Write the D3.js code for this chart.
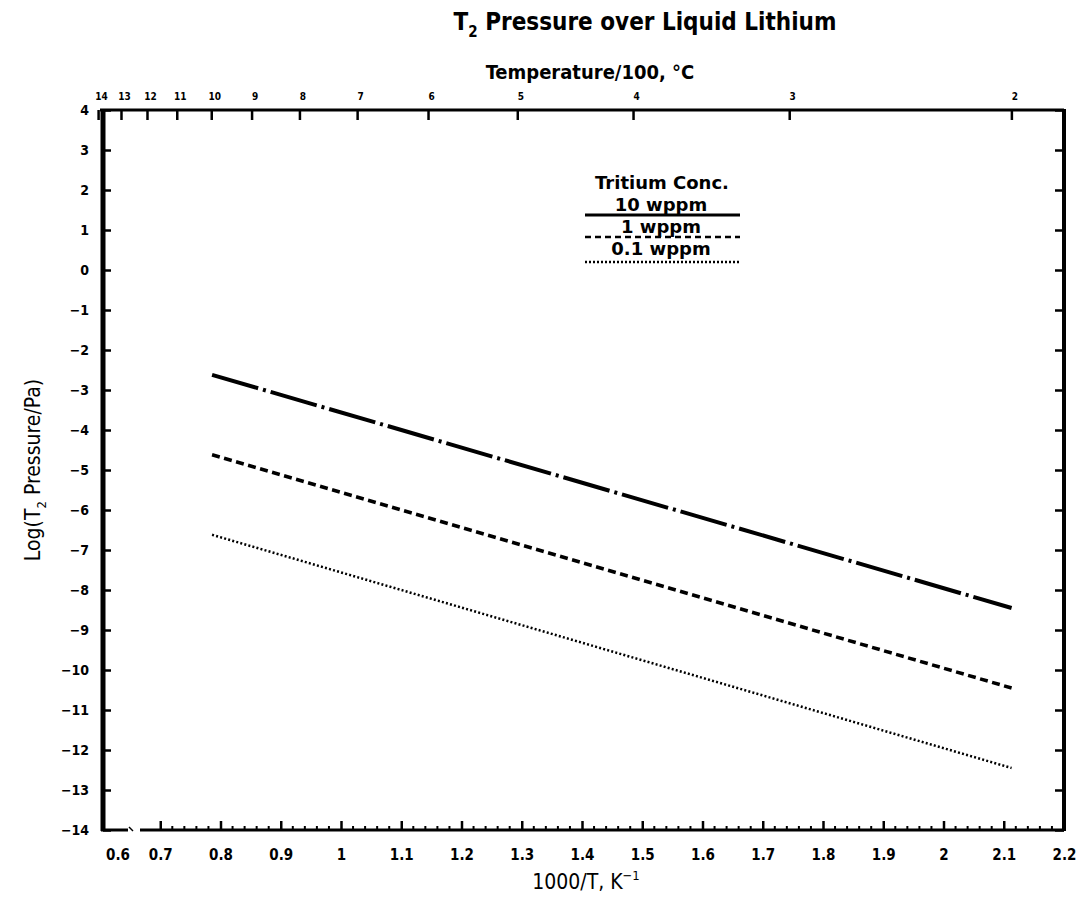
<!DOCTYPE html>
<html>
<head>
<meta charset="utf-8">
<script src="https://cdn.jsdelivr.net/npm/d3@7"></script>
<style>
  html, body { margin: 0; padding: 0; background: #fff; }
  svg { display: block; }
  text { font-family: "DejaVu Sans", "Liberation Sans", sans-serif; font-stretch: condensed; fill: #000; }
</style>
</head>
<body>
<script>
// ---- data ----
const xTickValues = [0.6, 0.7, 0.8, 0.9, 1, 1.1, 1.2, 1.3, 1.4, 1.5, 1.6, 1.7, 1.8, 1.9, 2, 2.1, 2.2];
const xTickLabels = ["0.6", "0.7", "0.8", "0.9", "1", "1.1", "1.2", "1.3", "1.4", "1.5", "1.6", "1.7", "1.8", "1.9", "2", "2.1", "2.2"];
const yTickValues = [4, 3, 2, 1, 0, -1, -2, -3, -4, -5, -6, -7, -8, -9, -10, -11, -12, -13, -14];
const tempTickValues = [14, 13, 12, 11, 10, 9, 8, 7, 6, 5, 4, 3, 2]; // temperature / 100, °C
const seriesNames = ["10 wppm", "1 wppm", "0.1 wppm"];
const invT = [0.786, 2.113];           // 1000/T at line ends (1000 °C to 200 °C)
const logP_10wppm = [-2.62, -8.45];
const logP_1wppm = [-4.62, -10.45];
const logP_01wppm = [-6.62, -12.45];

// ---- layout ----
const W = 1090, H = 899;
const L = 100, R = 1064, T = 110, B = 830;

const svg = d3.select("body").append("svg").attr("width", W).attr("height", H);

const x = d3.scaleLinear().domain([0.6, 2.2]).range([L, R]);
const y = d3.scaleLinear().domain([-14, 4]).range([B, T]);

// title
const title = svg.append("text").attr("x", 645).attr("y", 30).attr("text-anchor", "middle")
  .style("font-size", "24px").style("font-weight", "bold");
title.append("tspan").text("T");
title.append("tspan").attr("dy", 7).style("font-size", "15px").text("2");
title.append("tspan").attr("dy", -7).text(" Pressure over Liquid Lithium");

// top axis title
svg.append("text").attr("x", 590).attr("y", 79).attr("text-anchor", "middle")
  .style("font-size", "20px").style("font-weight", "bold").text("Temperature/100, °C");

// frame: top
svg.append("line").attr("x1", L).attr("x2", R).attr("y1", T).attr("y2", T)
  .attr("stroke", "#000").attr("stroke-width", 3);
// right
svg.append("line").attr("x1", R).attr("x2", R).attr("y1", T - 1).attr("y2", B + 1)
  .attr("stroke", "#000").attr("stroke-width", 4);
// left (thick)
svg.append("line").attr("x1", L + 3).attr("x2", L + 3).attr("y1", T - 1).attr("y2", B + 1)
  .attr("stroke", "#000").attr("stroke-width", 5);
// bottom with break
svg.append("line").attr("x1", L + 1).attr("x2", 128).attr("y1", B).attr("y2", B)
  .attr("stroke", "#000").attr("stroke-width", 3);
svg.append("line").attr("x1", 140).attr("x2", R).attr("y1", B).attr("y2", B)
  .attr("stroke", "#000").attr("stroke-width", 3);
svg.append("line").attr("x1", 129).attr("x2", 133).attr("y1", B - 3).attr("y2", B + 1)
  .attr("stroke", "#000").attr("stroke-width", 1.5);

// bottom axis (ticks inward)
const xAxis = d3.axisBottom(x).tickValues(xTickValues.slice(1))
  .tickFormat((d) => xTickLabels[xTickValues.indexOf(d)])
  .tickSize(-9).tickPadding(19);
const gx = svg.append("g").attr("transform", `translate(0,${B})`).call(xAxis);
gx.select(".domain").remove();
gx.selectAll(".tick line").attr("stroke", "#000").attr("stroke-width", 2.5);
gx.selectAll(".tick text").style("font-size", "15px").style("font-weight", "bold")
  .style("font-family", '"DejaVu Sans", sans-serif');
// minor ticks
const minorX = d3.range(0.72, 2.2, 0.02).filter((v) => Math.abs(v * 10 - Math.round(v * 10)) > 0.01);
svg.append("g").selectAll("line").data(minorX).join("line")
  .attr("x1", (d) => x(d)).attr("x2", (d) => x(d)).attr("y1", B).attr("y2", B - 4)
  .attr("stroke", "#000").attr("stroke-width", 2);
// 0.6 label sits right of the frame, before the break
svg.append("text").attr("x", 118).attr("y", B + 30).attr("text-anchor", "middle")
  .style("font-size", "15px").style("font-weight", "bold").style("font-family", '"DejaVu Sans", sans-serif')
  .text(xTickLabels[0]);

// bottom axis title
const xt = svg.append("text").attr("x", 586).attr("y", 889).attr("text-anchor", "middle")
  .style("font-size", "21px");
xt.append("tspan").text("1000/T, K");
xt.append("tspan").attr("dy", -9).style("font-size", "13px").text("−1");

// left axis
const yAxis = d3.axisLeft(y).tickValues(yTickValues).tickFormat((d) => d < 0 ? "−" + Math.abs(d) : d)
  .tickSize(-8).tickPadding(14);
const gy = svg.append("g").attr("transform", `translate(${L + 3},0)`).call(yAxis);
gy.select(".domain").remove();
gy.selectAll(".tick line").attr("stroke", "#000").attr("stroke-width", 2.5);
gy.selectAll(".tick text").style("font-size", "14px").style("font-weight", "bold")
  .style("font-family", '"DejaVu Sans", sans-serif');

// right axis ticks (inward)
const yAxisR = d3.axisRight(y).tickValues(yTickValues).tickSize(-9).tickFormat("");
const gyr = svg.append("g").attr("transform", `translate(${R},0)`).call(yAxisR);
gyr.select(".domain").remove();
gyr.selectAll(".tick line").attr("stroke", "#000").attr("stroke-width", 2.5);

// top axis: temperature in °C/100 placed at 1000/T(K)
const tempPos = (t) => x(1000 / (t * 100 + 273.15));
const gt = svg.append("g");
gt.selectAll("line").data(tempTickValues).join("line")
  .attr("x1", (d) => tempPos(d)).attr("x2", (d) => tempPos(d))
  .attr("y1", T).attr("y2", T + 10).attr("stroke", "#000").attr("stroke-width", 2.5);
gt.selectAll("text").data(tempTickValues).join("text")
  .attr("x", (d) => tempPos(d) + 3).attr("y", T - 10).attr("text-anchor", "middle")
  .style("font-size", "10px").style("font-weight", "bold").text((d) => d);

// y axis title
const yt = svg.append("text").attr("transform", `translate(40,${(T + B) / 2}) rotate(-90)`)
  .attr("text-anchor", "middle").style("font-size", "21px");
yt.append("tspan").text("Log(T");
yt.append("tspan").attr("dy", 6).style("font-size", "13px").text("2");
yt.append("tspan").attr("dy", -6).text(" Pressure/Pa)");

// data lines
const line = d3.line().x((d) => x(d[0])).y((d) => y(d[1]));
const series = [
  { name: seriesNames[0], vals: logP_10wppm, dash: "48,5,3,5", w: 4 },
  { name: seriesNames[1], vals: logP_1wppm, dash: "8,4.5", w: 3.5 },
  { name: seriesNames[2], vals: logP_01wppm, dash: "2,2.2", w: 2.5 },
];
svg.append("g").selectAll("path").data(series).join("path")
  .attr("d", (s) => line(invT.map((v, i) => [v, s.vals[i]])))
  .attr("fill", "none").attr("stroke", "#000")
  .attr("stroke-width", (s) => s.w).attr("stroke-dasharray", (s) => s.dash);

// legend
const lg = svg.append("g");
lg.append("text").attr("x", 662).attr("y", 189).attr("text-anchor", "middle")
  .style("font-size", "18px").style("font-weight", "bold").style("font-stretch", "normal").text("Tritium Conc.");
const legY = [211, 233, 255];
const legLineY = [215, 237, 262];
const legDash = [null, "6,4", "2,2"];
series.forEach((s, i) => {
  lg.append("line").attr("x1", 585).attr("x2", 740).attr("y1", legLineY[i]).attr("y2", legLineY[i])
    .attr("stroke", "#000").attr("stroke-width", i === 0 ? 3 : 2.5)
    .attr("stroke-dasharray", legDash[i]);
  lg.append("text").attr("x", 661).attr("y", legY[i]).attr("text-anchor", "middle")
    .style("font-size", "18px").style("font-weight", "bold").style("font-stretch", "normal").text(s.name);
});
</script>
</body>
</html>
